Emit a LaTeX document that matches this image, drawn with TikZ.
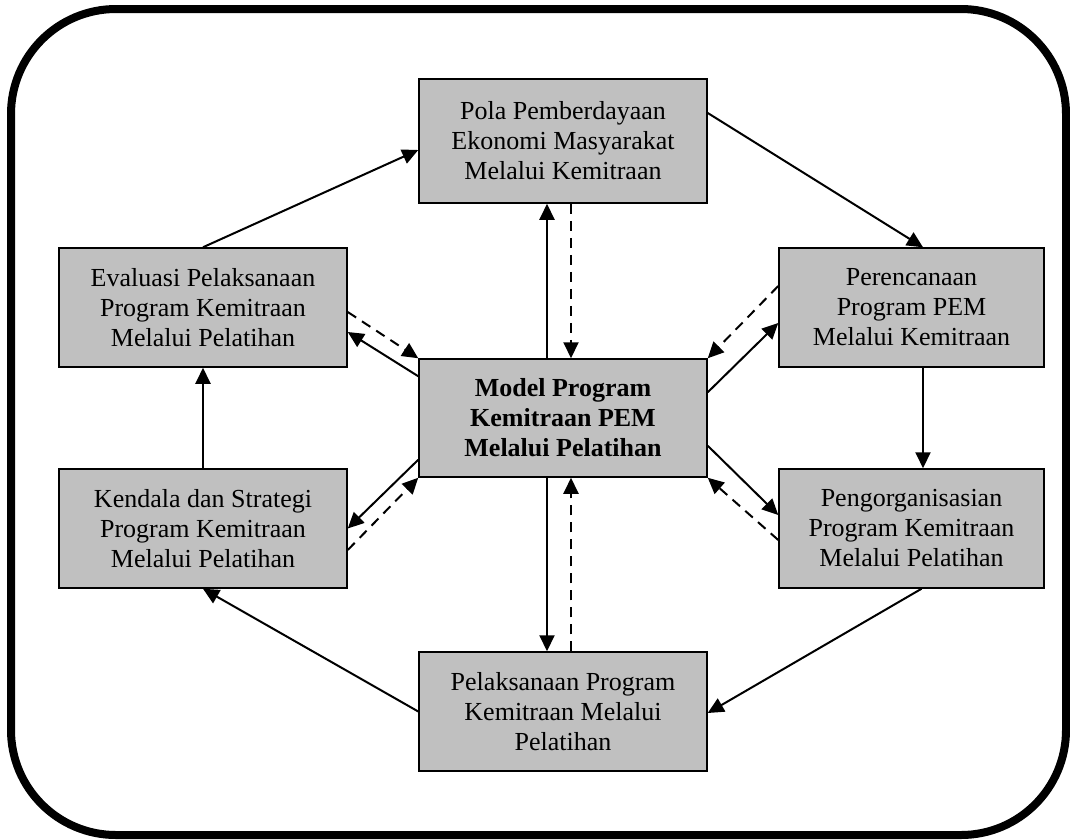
\documentclass[tikz,border=0pt]{standalone}
\usepackage{fontspec}
\setmainfont{Liberation Serif}
\usetikzlibrary{arrows.meta}
\definecolor{boxgray}{HTML}{C0C0C0}
\begin{document}
\begin{tikzpicture}[x=1pt,y=1pt,
  stagebox/.style={draw=black,line width=1.5pt,fill=boxgray,inner sep=0pt,
    align=center,font=\fontsize{26}{30}\selectfont},
  flow/.style={line width=2pt,-{Triangle[length=16pt,width=15pt]}},
  backflow/.style={flow,dash pattern=on 10pt off 7pt}]
\useasboundingbox (0,0) rectangle (1070,-839);
% outer frame
\draw[line width=8pt,rounded corners=105pt] (11,-9) rectangle (1066,-835);
% stages
\node[stagebox,minimum width=288pt,minimum height=124pt] (top) at (563,-141)
  {Pola Pemberdayaan\\Ekonomi Masyarakat\\Melalui Kemitraan};
\node[stagebox,minimum width=288pt,minimum height=119pt] (ev) at (203,-307.5)
  {Evaluasi Pelaksanaan\\Program Kemitraan\\Melalui Pelatihan};
\node[stagebox,minimum width=265pt,minimum height=119pt] (pr) at (911.5,-307.5)
  {Perencanaan\\Program PEM\\Melalui Kemitraan};
\node[stagebox,minimum width=288pt,minimum height=118pt,font=\fontsize{26}{30}\selectfont\bfseries] (md) at (563,-418)
  {Model Program\\Kemitraan PEM\\Melalui Pelatihan};
\node[stagebox,minimum width=288pt,minimum height=119pt] (ke) at (203,-528.5)
  {Kendala dan Strategi\\Program Kemitraan\\Melalui Pelatihan};
\node[stagebox,minimum width=265pt,minimum height=119pt] (pg) at (911.5,-528.5)
  {Pengorganisasian\\Program Kemitraan\\Melalui Pelatihan};
\node[stagebox,minimum width=288pt,minimum height=119pt] (bt) at (563,-711.5)
  {Pelaksanaan Program\\Kemitraan Melalui\\Pelatihan};
% outer cycle
\draw[flow] (ev.north) -- ([yshift=-9pt]top.west);
\draw[flow] ([yshift=28pt]top.east) -- ([xshift=11.5pt]pr.north);
\draw[flow] ([xshift=11.5pt]pr.south) -- ([xshift=11.5pt]pg.north);
\draw[flow] ([xshift=10pt]pg.south) -- ([yshift=-1.5pt]bt.east);
\draw[flow] (bt.west) -- (ke.south);
\draw[flow] (ke.north) -- (ev.south);
% links with the model
\draw[flow] ([yshift=-18pt]md.north west) -- ([yshift=-24.5pt]ev.east);
\draw[backflow] ([yshift=-4.5pt]ev.east) -- (md.north west);
\draw[backflow] ([yshift=21.5pt]pr.west) -- (md.north east);
\draw[flow] ([yshift=-34pt]md.north east) -- ([yshift=-15.5pt]pr.west);
\draw[flow] ([yshift=18pt]md.south west) -- (ke.east);
\draw[backflow] ([yshift=-21.5pt]ke.east) -- (md.south west);
\draw[flow] ([yshift=32pt]md.south east) -- ([yshift=13.5pt]pg.west);
\draw[backflow] ([yshift=-11.5pt]pg.west) -- (md.south east);
\draw[flow] ([xshift=-16pt]md.north) -- ([xshift=-16pt]top.south);
\draw[backflow] ([xshift=8pt]top.south) -- ([xshift=8pt]md.north);
\draw[flow] ([xshift=-16pt]md.south) -- ([xshift=-16pt]bt.north);
\draw[backflow] ([xshift=8pt]bt.north) -- ([xshift=8pt]md.south);
\end{tikzpicture}
\end{document}
